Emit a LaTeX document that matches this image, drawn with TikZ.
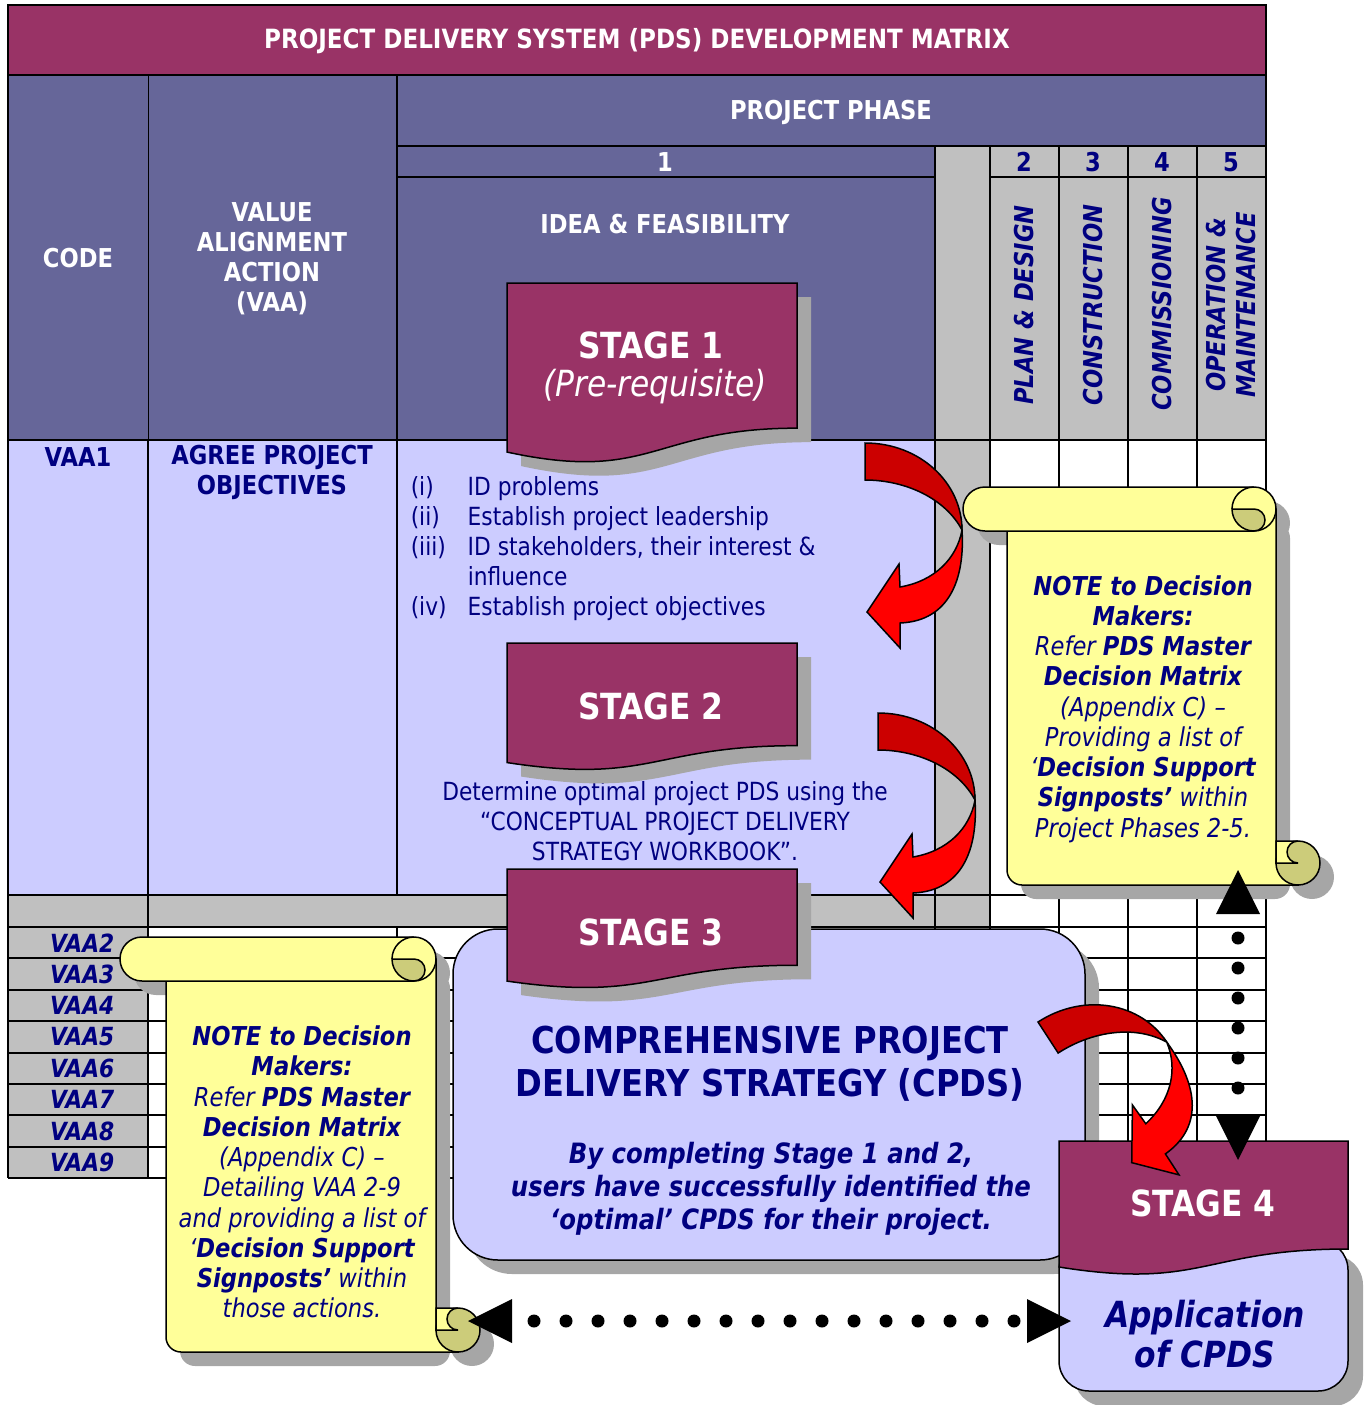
\documentclass[tikz,border=0pt]{standalone}
\usepackage{fontspec}
\setmainfont{DejaVu Sans}[FakeStretch=0.87]
\usetikzlibrary{arrows.meta}
\definecolor{maroon}{RGB}{153,51,102}
\definecolor{hdrblue}{RGB}{102,102,153}
\definecolor{lav}{RGB}{204,204,255}
\definecolor{cellgray}{RGB}{192,192,192}
\definecolor{navy}{RGB}{0,0,128}
\definecolor{scrollyel}{RGB}{255,255,153}
\definecolor{scrollolive}{RGB}{204,204,122}
\definecolor{reddark}{RGB}{204,0,0}
\definecolor{redbright}{RGB}{255,0,0}
\definecolor{shadowc}{RGB}{166,166,166}

% wavy stage tab: #1 top, #2 height
\newcommand\tabpath[2]{(507,#1) -- (797,#1) -- (797,#1+0.802*#2)
  .. controls (652,#1+0.802*#2) and (652,#1+1.1075*#2) .. (507,#1+0.934*#2) -- cycle}

% curved red arrow, local coordinates
\newcommand\bentarrow{%
  \filldraw[fill=reddark] (0,0) .. controls (55,0) and (97,40) .. (97,87)
    .. controls (80,55) and (40,37) .. (0,37) -- cycle;
  \filldraw[fill=redbright] (97,87) .. controls (100,135) and (85,178) .. (35,180)
    -- (35,205) -- (2,169) -- (34,121) -- (35,144)
    .. controls (70,138) and (92,115) .. (97,87) -- cycle;}

% scroll: #1 band left, #2 top, #3 body left, #4 right, #5 bottom
\newcommand\notescroll[5]{%
  \begin{scope}[shift={(14,14)}]
    \fill[shadowc,rounded corners=22pt] (#1,#2) rectangle (#4,#2+44);
    \fill[shadowc,rounded corners=15pt] (#3,#2+22) rectangle (#4,#5);
    \fill[shadowc] (#4+22,#5-22) circle[radius=22pt];
  \end{scope}
  \filldraw[fill=scrollyel] (#3,#2+22) -- (#3,#5-15) arc[start angle=180,end angle=270,radius=15pt]
    -- (#4+22,#5) -- (#4+22,#5-22) -- (#4,#5-22) -- (#4,#2+22) -- cycle;
  \filldraw[fill=scrollolive] (#4+22,#5-22) circle[radius=22pt];
  \filldraw[fill=scrollyel] (#4,#5-44) -- (#4+22,#5-44)
    arc[start angle=90,end angle=270,radius=11pt] -- (#4,#5-22) -- cycle;
  \filldraw[fill=scrollyel] (#1+22,#2) -- (#4-22,#2) arc[start angle=90,end angle=-90,radius=22pt]
    -- (#1+22,#2+44) arc[start angle=270,end angle=90,radius=22pt] -- cycle;
  \filldraw[fill=scrollolive] (#4-44,#2+22) -- (#4-22,#2+22)
    arc[start angle=90,end angle=-90,radius=11pt]
    arc[start angle=270,end angle=180,radius=22pt] -- cycle;
  \draw (#4-44,#2+22) arc[start angle=180,end angle=90,radius=22pt];}

\begin{document}
\begin{tikzpicture}[x=1pt,y=-1pt,line width=1.5pt,
  grid/.style={line width=2pt},
  hdr/.style={text=white,font=\bfseries\fontsize{26}{30}\selectfont,align=center,inner sep=0pt},
  phasenum/.style={text=navy,font=\bfseries\fontsize{26}{30}\selectfont,inner sep=0pt},
  phasename/.style={text=navy,font=\bfseries\itshape\fontsize{26}{30}\selectfont,align=center,rotate=90,inner sep=0pt},
  rowhead/.style={text=navy,font=\bfseries\fontsize{26}{30}\selectfont,align=center,inner sep=0pt},
  vaacode/.style={text=navy,font=\bfseries\itshape\fontsize{25}{30}\selectfont,anchor=east,inner sep=0pt},
  bodytxt/.style={text=navy,font=\fontsize{25}{30}\selectfont,inner sep=0pt},
  stagetxt/.style={text=white,font=\bfseries\fontsize{36}{42}\selectfont,inner sep=0pt},
  stagesub/.style={text=white,font=\itshape\fontsize{36}{42}\selectfont,inner sep=0pt},
  notetxt/.style={text=navy,font=\itshape\fontsize{26}{30.25}\selectfont,align=center,inner sep=0pt},
  cpdstitle/.style={text=navy,font=\bfseries\fontsize{37}{43}\selectfont,align=center,inner sep=0pt},
  cpdsnote/.style={text=navy,font=\bfseries\itshape\fontsize{28}{33}\selectfont,align=center,inner sep=0pt},
  apptxt/.style={text=navy,font=\bfseries\itshape\fontsize{36}{40}\selectfont,align=center,inner sep=0pt},
  dotlink/.style={line width=13pt,line cap=round,
    {Triangle[length=44pt,width=44pt,line width=0pt]}-{Triangle[length=44pt,width=44pt,line width=0pt]}}]
\useasboundingbox (0,0) rectangle (1364,1405);

% title bar
\filldraw[fill=maroon,grid] (8,5) rectangle (1266,75);
\node[hdr,font=\bfseries\fontsize{26.5}{30}\selectfont] (title) at (637,41) {PROJECT DELIVERY SYSTEM (PDS) DEVELOPMENT MATRIX};

% cells
\fill[hdrblue] (8,75) rectangle (935,440);
\fill[hdrblue] (935,75) rectangle (1266,146);
\fill[cellgray] (935,146) rectangle (1266,440);
\fill[lav] (8,440) rectangle (935,895);
\fill[cellgray] (935,440) rectangle (990,927);
\fill[cellgray] (8,895) rectangle (990,927);
\fill[cellgray] (8,927) rectangle (148,1178);

% grid lines
\draw[grid] (8,75) -- (1266,75) (397,146) -- (1266,146)
  (397,177) -- (935,177) (990,177) -- (1266,177)
  (8,440) -- (1266,440) (8,895) -- (1266,895) (8,927) -- (1266,927);
\foreach \k in {1,...,8}
  \draw[grid] (8,927+\k*31.375) -- (1266,927+\k*31.375);
\draw[grid] (8,75) -- (8,1178) (397,75) -- (397,895) (397,927) -- (397,1178)
  (935,146) -- (935,1178) (1266,75) -- (1266,146);
\draw[line width=1pt] (148,75) -- (148,440);
\draw[grid] (148,440) -- (148,1178);
\foreach \x in {990,1059,1128,1197,1266}
  \draw[grid] (\x,146) -- (\x,1178);

% header
\node[hdr] (phase) at (831,112) {PROJECT PHASE};
\node[hdr] (ph1) at (665,162) {1};
\foreach \n/\x in {2/1024,3/1093,4/1162,5/1231}
  \node[phasenum] (ph\n) at (\x,162) {\n};
\node[hdr] (code) at (78,258) {CODE};
\node[hdr] (vaa) at (272,259) {VALUE\\ALIGNMENT\\ACTION\\(VAA)};
\node[hdr] (idea) at (665,224) {IDEA \& FEASIBILITY};
\node[phasename] (plan) at (1024,305) {PLAN \& DESIGN};
\node[phasename] (constr) at (1093,305) {CONSTRUCTION};
\node[phasename] (comm) at (1162,304) {COMMISSIONING};
\node[phasename] (oper) at (1231,305) {OPERATION \&\\MAINTENANCE};

% VAA1 row
\node[rowhead] (vaa1) at (78,457) {VAA1};
\node[rowhead] (agree) at (272,472) {AGREE PROJECT\\OBJECTIVES};
\node[bodytxt,anchor=north west,align=left] (steps) at (410,476)
  {\makebox[57pt][l]{(i)}ID problems\\
   \makebox[57pt][l]{(ii)}Establish project leadership\\
   \makebox[57pt][l]{(iii)}ID stakeholders, their interest \&\\
   \hspace*{57pt}influence\\
   \makebox[57pt][l]{(iv)}Establish project objectives};
\node[bodytxt,align=center] (determine) at (665,821)
  {Determine optimal project PDS using the\\“CONCEPTUAL PROJECT DELIVERY\\STRATEGY WORKBOOK”.};

% VAA2-9
\foreach \k in {2,...,9}
  \node[vaacode] (vaa\k) at (115,880+31.375*\k) {VAA\k};

% stages 1 and 2
\foreach \ty/\th in {283/181,643/128} {
  \fill[shadowc,shift={(14,14)}] \tabpath{\ty}{\th};
  \filldraw[fill=maroon] \tabpath{\ty}{\th};
}
\node[stagetxt] (s1) at (651,345) {STAGE 1};
\node[stagesub] (s1sub) at (655,387) {(Pre-requisite)};
\node[stagetxt] (s2) at (651,706) {STAGE 2};

% red arrows
\foreach \ax/\ay in {865/443,878/713} {
  \begin{scope}[shift={(\ax,\ay)}] \bentarrow \end{scope}
}

% note, phases 2-5
\notescroll{963}{487}{1007}{1276}{885}
\node[notetxt] (rnote) at (1143,709)
  {{\bfseries NOTE to Decision}\\{\bfseries Makers:}\\Refer {\bfseries PDS Master}\\
   {\bfseries Decision Matrix}\\(Appendix C) –\\Providing a list of\\
   ‘{\bfseries Decision Support}\\{\bfseries Signposts’} within\\Project Phases 2-5.};

% note, VAA 2-9
\notescroll{120}{937}{166}{436}{1352}
\node[notetxt] (lnote) at (302,1172)
  {{\bfseries NOTE to Decision}\\{\bfseries Makers:}\\Refer {\bfseries PDS Master}\\
   {\bfseries Decision Matrix}\\(Appendix C) –\\Detailing VAA 2-9\\and providing a list of\\
   ‘{\bfseries Decision Support}\\{\bfseries Signposts’} within\\those actions.};

% stage 3
\fill[shadowc,rounded corners=45pt] (467,943) rectangle (1099,1274);
\filldraw[fill=lav,rounded corners=45pt] (453,929) rectangle (1085,1260);
\fill[shadowc,shift={(14,14)}] \tabpath{869}{120};
\filldraw[fill=maroon] \tabpath{869}{120};
\node[stagetxt] (s3) at (651,932) {STAGE 3};
\node[cpdstitle] (cpds) at (770,1064) {COMPREHENSIVE PROJECT\\DELIVERY STRATEGY (CPDS)};
\node[cpdsnote] (cpdsnote) at (771,1189)
  {By completing Stage 1 and 2,\\users have successfully identified the\\‘optimal’ CPDS for their project.};

% stage 4
\fill[shadowc,rounded corners=30pt] (1074,1255) rectangle (1363,1406);
\filldraw[fill=lav,rounded corners=30pt] (1059,1240) rectangle (1348,1391);
\filldraw[fill=maroon] (1059,1141) -- (1348,1141) -- (1348,1249)
  .. controls (1203,1249) and (1203,1290) .. (1059,1267) -- cycle;
\node[stagetxt] (s4) at (1203,1203) {STAGE 4};
\node[apptxt] (app) at (1205,1334) {Application\\of CPDS};

% red arrow into stage 4
\begin{scope}[shift={(1038,1022)},rotate=33] \bentarrow \end{scope}

% dotted links
\coordinate (lcurl) at (468,1321);
\coordinate (s4west) at (1071,1321);
\coordinate (rcurl) at (1238,870);
\coordinate (s4north) at (1238,1160);
\draw[dotlink,dash pattern=on 0pt off 32pt,dash phase=10pt] (lcurl) -- (s4west);
\draw[dotlink,dash pattern=on 0pt off 30pt,dash phase=6pt] (rcurl) -- (s4north);
\end{tikzpicture}
\end{document}
